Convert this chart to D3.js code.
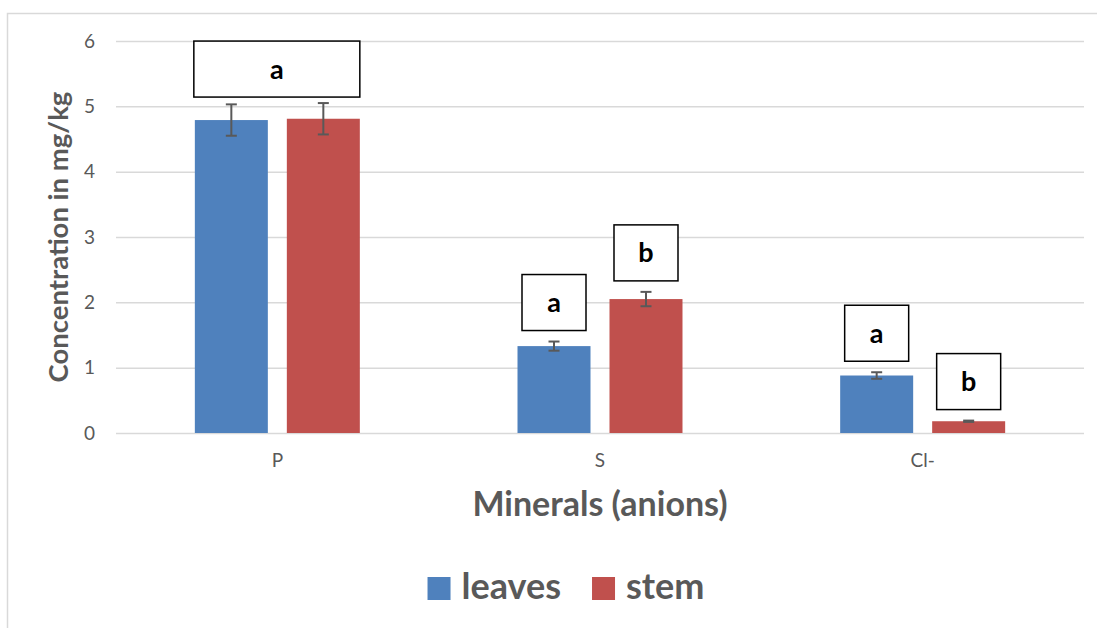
<!DOCTYPE html>
<html>
<head>
<meta charset="utf-8">
<script src="https://cdn.jsdelivr.net/npm/d3@7"></script>
<style>
  body { margin: 0; background: #fff; }
  svg { display: block; font-family: Lato, "Open Sans", sans-serif; }
</style>
</head>
<body>
<svg id="chart"></svg>
<script>
// data
var categories = ["P", "S", "Cl-"];
var seriesNames = ["leaves", "stem"];
var leavesValues = [4.79, 1.33, 0.88];
var stemValues = [4.81, 2.05, 0.18];
var leavesErr = [0.24, 0.07, 0.05];
var stemErr = [0.24, 0.11, 0.01];
var yTicks = [0, 1, 2, 3, 4, 5, 6];
// significance letters: one box over both bars, or one per bar
var groupLetters = ["a", null, null];
var leavesLetters = [null, "a", "a"];
var stemLetters = [null, "b", "b"];

var colors = {leaves: "#4f81bd", stem: "#c0504d"};
var width = 1097, height = 628;
var margin = {top: 41, right: 13, bottom: 195, left: 116};

var svg = d3.select("#chart")
    .attr("width", width)
    .attr("height", height);

svg.append("rect")
    .attr("width", width)
    .attr("height", height)
    .attr("fill", "#fff");

// chart area border (only top and left visible in crop)
svg.append("path")
    .attr("d", "M7.5,628V13.5H1097")
    .attr("fill", "none")
    .attr("stroke", "#d9d9d9")
    .attr("stroke-width", 1.5);

var rows = categories.map(function(c, i) {
    return {
        cat: c,
        group: groupLetters[i],
        bars: [
            {series: "leaves", value: leavesValues[i], err: leavesErr[i], letter: leavesLetters[i]},
            {series: "stem", value: stemValues[i], err: stemErr[i], letter: stemLetters[i]}
        ]
    };
});

var x = d3.scaleBand()
    .domain(categories)
    .range([margin.left, width - margin.right]);

var xs = d3.scaleBand()
    .domain(seriesNames)
    .range([0, x.bandwidth()])
    .paddingInner(0.2065)
    .paddingOuter(0.857);

var y = d3.scaleLinear()
    .domain([0, 6])
    .range([height - margin.bottom, margin.top]);

// grid + y labels
var yAxis = g => g
    .attr("transform", `translate(${margin.left},0)`)
    .call(d3.axisLeft(y).tickValues(yTicks)
        .tickFormat(d3.format("d"))
        .tickSize(-(width - margin.right - margin.left))
        .tickPadding(21))
    .call(g => g.select(".domain").remove())
    .call(g => g.selectAll(".tick line").attr("stroke", "#d9d9d9").attr("stroke-width", 1.5))
    .call(g => g.selectAll(".tick text")
        .attr("fill", "#595959")
        .style("font-size", "19px")
        .style("font-family", "Lato, sans-serif"));

svg.append("g").call(yAxis);

var xAxis = g => g
    .attr("transform", `translate(0,${height - margin.bottom})`)
    .call(d3.axisBottom(x).tickSize(0).tickPadding(21))
    .call(g => g.select(".domain").remove())
    .call(g => g.selectAll(".tick text")
        .attr("fill", "#595959")
        .style("font-size", "19px")
        .style("font-family", "Lato, sans-serif"));

svg.append("g").call(xAxis);

// bars
var groups = svg.append("g")
    .selectAll("g")
    .data(rows)
    .enter().append("g")
    .attr("transform", d => `translate(${x(d.cat)},0)`);

groups.selectAll("rect")
    .data(d => d.bars)
    .enter().append("rect")
    .attr("x", d => xs(d.series))
    .attr("y", d => y(d.value))
    .attr("width", xs.bandwidth())
    .attr("height", d => y(0) - y(d.value))
    .attr("fill", d => colors[d.series]);

// error bars
var capW = 11;
var eb = groups.selectAll("g.err")
    .data(d => d.bars)
    .enter().append("g")
    .attr("class", "err")
    .attr("stroke", "#595959")
    .attr("stroke-width", 2);

eb.append("line")
    .attr("x1", d => xs(d.series) + xs.bandwidth() / 2)
    .attr("x2", d => xs(d.series) + xs.bandwidth() / 2)
    .attr("y1", d => y(d.value + d.err))
    .attr("y2", d => y(d.value - d.err));
eb.append("line")
    .attr("x1", d => xs(d.series) + xs.bandwidth() / 2 - capW / 2)
    .attr("x2", d => xs(d.series) + xs.bandwidth() / 2 + capW / 2)
    .attr("y1", d => y(d.value + d.err))
    .attr("y2", d => y(d.value + d.err));
eb.append("line")
    .attr("x1", d => xs(d.series) + xs.bandwidth() / 2 - capW / 2)
    .attr("x2", d => xs(d.series) + xs.bandwidth() / 2 + capW / 2)
    .attr("y1", d => y(d.value - d.err))
    .attr("y2", d => y(d.value - d.err));

// letter boxes
var boxH = 56, boxGap = 11, boxW = 64;

function letterBox(g, x0, x1, bottom, letter) {
    g.append("rect")
        .attr("x", x0)
        .attr("y", bottom - boxH)
        .attr("width", x1 - x0)
        .attr("height", boxH)
        .attr("fill", "#fff")
        .attr("stroke", "#000")
        .attr("stroke-width", 1.5);
    g.append("text")
        .attr("x", (x0 + x1) / 2)
        .attr("y", bottom - boxH / 2)
        .attr("dy", "0.35em")
        .attr("text-anchor", "middle")
        .style("font-size", "27px")
        .style("font-weight", "bold")
        .attr("fill", "#000")
        .text(letter);
}

groups.each(function(d) {
    var g = d3.select(this);
    if (d.group) {
        var top = d3.min(d.bars, b => y(b.value + b.err));
        letterBox(g, xs(seriesNames[0]) - 1, xs(seriesNames[1]) + xs.bandwidth(), top - 6, d.group);
    }
    d.bars.forEach(function(b) {
        if (!b.letter) return;
        var cx = xs(b.series) + xs.bandwidth() / 2;
        letterBox(g, cx - boxW / 2, cx + boxW / 2, y(b.value + b.err) - boxGap, b.letter);
    });
});

// axis titles
svg.append("text")
    .attr("x", (margin.left + width - margin.right) / 2)
    .attr("y", 516)
    .attr("text-anchor", "middle")
    .attr("fill", "#595959")
    .style("font-size", "34px")
    .style("font-weight", "bold")
    .text("Minerals (anions)");

svg.append("text")
    .attr("transform", "translate(68,237) rotate(-90)")
    .attr("text-anchor", "middle")
    .attr("fill", "#595959")
    .style("font-size", "27.5px")
    .style("font-weight", "bold")
    .text("Concentration in mg/kg");

// legend
var legend = svg.append("g");
var lx = 0;
seriesNames.forEach(function(s, i) {
    var item = legend.append("g").attr("transform", `translate(${lx},0)`);
    item.append("rect")
        .attr("x", 0)
        .attr("y", -23)
        .attr("width", 23)
        .attr("height", 23)
        .attr("fill", colors[s]);
    var t = item.append("text")
        .attr("x", 34)
        .attr("y", -1)
        .attr("fill", "#595959")
        .style("font-size", "36px")
        .style("font-weight", "bold")
        .text(s);
    lx += 34 + t.node().getComputedTextLength() + 31;
});
var legW = lx - 31;
legend.attr("transform", `translate(${566 - legW / 2},600)`);
</script>
</body>
</html>
